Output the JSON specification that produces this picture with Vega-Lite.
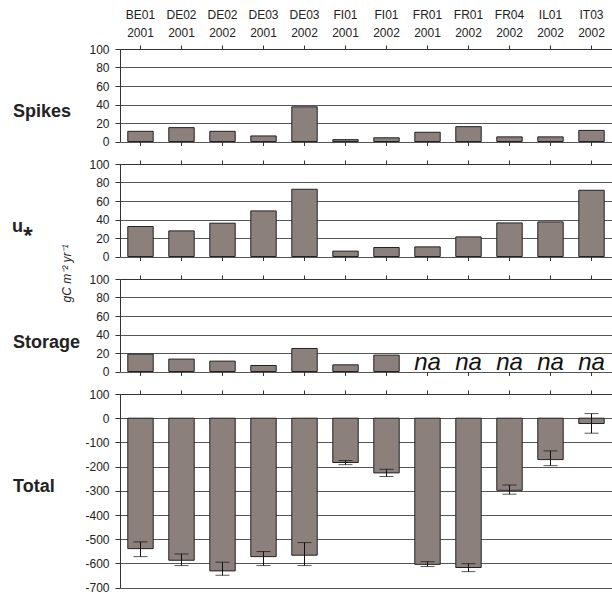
{
  "$schema": "https://vega.github.io/schema/vega-lite/v6.json",
  "padding": {"left": 12, "top": 8, "right": 0, "bottom": 0},
  "spacing": 22,
  "bounds": "flush",
  "config": {
    "view": {"stroke": null},
    "font": "Liberation Sans",
    "axis": {
      "labelFont": "Liberation Sans",
      "labelFontSize": 12,
      "labelColor": "#222",
      "titleFont": "Liberation Sans",
      "titleColor": "#222",
      "domainColor": "#333",
      "tickColor": "#333",
      "gridColor": "#555",
      "gridOpacity": 1,
      "gridWidth": 1
    }
  },
  "datasets": {
    "flux": [
      {"site": "BE01 2001", "spikes": 11, "ustar": 32.4, "storage": 18.8, "total": -539, "lo": -572, "hi": -511},
      {"site": "DE02 2001", "spikes": 15, "ustar": 27.7, "storage": 13.4, "total": -587, "lo": -609, "hi": -561},
      {"site": "DE02 2002", "spikes": 11, "ustar": 36, "storage": 11.2, "total": -631, "lo": -649, "hi": -595},
      {"site": "DE03 2001", "spikes": 6, "ustar": 49.3, "storage": 6.5, "total": -572, "lo": -609, "hi": -551},
      {"site": "DE03 2002", "spikes": 37.5, "ustar": 72.7, "storage": 24.9, "total": -566, "lo": -609, "hi": -514},
      {"site": "FI01 2001", "spikes": 2, "ustar": 5.8, "storage": 7.2, "total": -183, "lo": -192, "hi": -175},
      {"site": "FI01 2002", "spikes": 4, "ustar": 9.7, "storage": 17.7, "total": -226, "lo": -241, "hi": -211},
      {"site": "FR01 2001", "spikes": 10, "ustar": 10.4, "storage": null, "note": "na", "total": -604, "lo": -613, "hi": -593},
      {"site": "FR01 2002", "spikes": 16, "ustar": 21.2, "storage": null, "note": "na", "total": -617, "lo": -634, "hi": -601},
      {"site": "FR04 2002", "spikes": 5, "ustar": 36.3, "storage": null, "note": "na", "total": -298, "lo": -314, "hi": -276},
      {"site": "IL01 2002", "spikes": 5, "ustar": 37.4, "storage": null, "note": "na", "total": -171, "lo": -196, "hi": -135},
      {"site": "IT03 2002", "spikes": 12, "ustar": 71.6, "storage": null, "note": "na", "total": -22, "lo": -62, "hi": 19}
    ]
  },
  "vconcat": [
    {
      "width": 492,
      "height": 92.5,
      "data": {"name": "flux"},
      "resolve": {"axis": {"x": "independent"}},
      "layer": [
        {
          "mark": {"type": "bar", "fill": "#8c807c", "stroke": "#222", "strokeWidth": 1},
          "encoding": {
            "x": {"field": "site", "type": "nominal", "sort": null,
              "scale": {"paddingInner": 0.38, "paddingOuter": 0.19},
              "axis": {"orient": "top", "title": null, "labelExpr": "split(datum.label, ' ')", "labelAngle": 0, "labelLineHeight": 18, "tickSize": 4, "labelPadding": 23.5}},
            "y": {"field": "spikes", "type": "quantitative", "scale": {"domain": [0, 100], "nice": false},
              "axis": {"values": [0, 20, 40, 60, 80, 100], "grid": true, "tickSize": 5, "labelPadding": 6, "labelExpr": "'' + datum.value",
                "title": "Spikes", "titleAngle": 0, "titleX": -107.5, "titleY": 62.7, "titleAlign": "left", "titleBaseline": "middle", "titleFontSize": 18, "titleFontWeight": "bold"}}
          }
        },
        {
          "mark": {"type": "bar", "opacity": 0},
          "encoding": {
            "x": {"field": "site", "type": "nominal", "sort": null,
              "axis": {"orient": "bottom", "title": null, "labels": false, "domain": false, "tickSize": 4}}
          }
        }
      ]
    },
    {
      "width": 492,
      "height": 92.5,
      "data": {"name": "flux"},
      "resolve": {"axis": {"x": "independent"}},
      "title": {"text": "u⁎", "orient": "left", "angle": 0, "anchor": "middle", "align": "left", "baseline": "middle", "offset": 27.5, "dy": 17, "fontSize": 18, "fontWeight": "bold", "color": "#222", "font": "Liberation Sans"},
      "layer": [
        {
          "mark": {"type": "bar", "fill": "#8c807c", "stroke": "#222", "strokeWidth": 1},
          "encoding": {
            "x": {"field": "site", "type": "nominal", "sort": null,
              "scale": {"paddingInner": 0.38, "paddingOuter": 0.19},
              "axis": {"orient": "top", "title": null, "labels": false, "tickSize": 4}},
            "y": {"field": "ustar", "type": "quantitative", "scale": {"domain": [0, 100], "nice": false},
              "axis": {"values": [0, 20, 40, 60, 80, 100], "grid": true, "tickSize": 5, "labelPadding": 6, "labelExpr": "'' + datum.value",
                "title": "gC m⁻² yr⁻¹", "titleAngle": -90, "titleX": -53.5, "titleY": 109, "titleAlign": "center", "titleBaseline": "middle", "titleFontSize": 12, "titleFontWeight": "normal", "titleFontStyle": "italic"}}
          }
        },
        {
          "mark": {"type": "bar", "opacity": 0},
          "encoding": {
            "x": {"field": "site", "type": "nominal", "sort": null,
              "axis": {"orient": "bottom", "title": null, "labels": false, "domain": false, "tickSize": 4}}
          }
        }
      ]
    },
    {
      "width": 492,
      "height": 92.5,
      "data": {"name": "flux"},
      "resolve": {"axis": {"x": "independent"}},
      "layer": [
        {
          "mark": {"type": "bar", "fill": "#8c807c", "stroke": "#222", "strokeWidth": 1},
          "encoding": {
            "x": {"field": "site", "type": "nominal", "sort": null,
              "scale": {"paddingInner": 0.38, "paddingOuter": 0.19},
              "axis": {"orient": "top", "title": null, "labels": false, "tickSize": 4}},
            "y": {"field": "storage", "type": "quantitative", "scale": {"domain": [0, 100], "nice": false},
              "axis": {"values": [0, 20, 40, 60, 80, 100], "grid": true, "tickSize": 5, "labelPadding": 6, "labelExpr": "'' + datum.value",
                "title": "Storage", "titleAngle": 0, "titleX": -107.5, "titleY": 63, "titleAlign": "left", "titleBaseline": "middle", "titleFontSize": 18, "titleFontWeight": "bold"}}
          }
        },
        {
          "transform": [{"filter": "datum.note == 'na'"}],
          "mark": {"type": "text", "fontSize": 24, "fontStyle": "italic", "baseline": "alphabetic", "dy": -2, "color": "#111", "font": "Liberation Sans"},
          "encoding": {
            "x": {"field": "site", "type": "nominal", "sort": null,
              "axis": {"orient": "bottom", "title": null, "labels": false, "domain": false, "tickSize": 4}},
            "y": {"datum": 0,
              "axis": {"values": [0, 20, 40, 60, 80, 100], "grid": true, "tickSize": 5, "labelPadding": 6, "labelExpr": "'' + datum.value",
                "title": "Storage", "titleAngle": 0, "titleX": -107.5, "titleY": 63, "titleAlign": "left", "titleBaseline": "middle", "titleFontSize": 18, "titleFontWeight": "bold"}},
            "text": {"field": "note"}
          }
        }
      ]
    },
    {
      "width": 492,
      "height": 193.6,
      "data": {"name": "flux"},
      "encoding": {
        "x": {"field": "site", "type": "nominal", "sort": null,
          "scale": {"paddingInner": 0.38, "paddingOuter": 0.19},
          "axis": {"orient": "top", "title": null, "labels": false, "tickSize": 4}}
      },
      "layer": [
        {
          "mark": {"type": "bar", "fill": "#8c807c", "stroke": "#222", "strokeWidth": 1},
          "encoding": {
            "y": {"field": "total", "type": "quantitative", "scale": {"domain": [-700, 100], "nice": false},
              "axis": {"values": [-700, -600, -500, -400, -300, -200, -100, 0, 100], "grid": true, "tickSize": 5, "labelPadding": 6, "labelExpr": "'' + datum.value",
                "title": "Total", "titleAngle": 0, "titleX": -107.5, "titleY": 92.3, "titleAlign": "left", "titleBaseline": "middle", "titleFontSize": 18, "titleFontWeight": "bold"}}
          }
        },
        {
          "mark": {"type": "rule", "color": "#111", "strokeWidth": 1},
          "encoding": {
            "y": {"field": "lo", "type": "quantitative",
              "axis": {"values": [-700, -600, -500, -400, -300, -200, -100, 0, 100], "grid": true, "tickSize": 5, "labelPadding": 6, "labelExpr": "'' + datum.value",
                "title": "Total", "titleAngle": 0, "titleX": -107.5, "titleY": 92.3, "titleAlign": "left", "titleBaseline": "middle", "titleFontSize": 18, "titleFontWeight": "bold"}},
            "y2": {"field": "hi"}
          }
        },
        {
          "mark": {"type": "tick", "color": "#111", "thickness": 1, "size": 14, "orient": "horizontal"},
          "encoding": {
            "y": {"field": "lo", "type": "quantitative",
              "axis": {"values": [-700, -600, -500, -400, -300, -200, -100, 0, 100], "grid": true, "tickSize": 5, "labelPadding": 6, "labelExpr": "'' + datum.value",
                "title": "Total", "titleAngle": 0, "titleX": -107.5, "titleY": 92.3, "titleAlign": "left", "titleBaseline": "middle", "titleFontSize": 18, "titleFontWeight": "bold"}}
          }
        },
        {
          "mark": {"type": "tick", "color": "#111", "thickness": 1, "size": 14, "orient": "horizontal"},
          "encoding": {
            "y": {"field": "hi", "type": "quantitative",
              "axis": {"values": [-700, -600, -500, -400, -300, -200, -100, 0, 100], "grid": true, "tickSize": 5, "labelPadding": 6, "labelExpr": "'' + datum.value",
                "title": "Total", "titleAngle": 0, "titleX": -107.5, "titleY": 92.3, "titleAlign": "left", "titleBaseline": "middle", "titleFontSize": 18, "titleFontWeight": "bold"}}
          }
        }
      ]
    }
  ]
}
